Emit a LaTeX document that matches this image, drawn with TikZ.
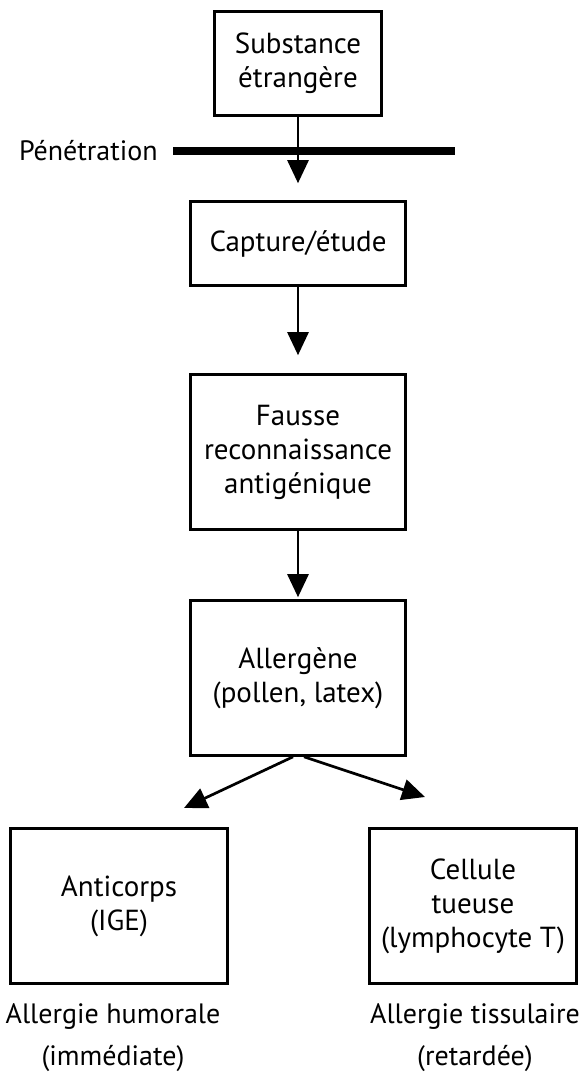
\documentclass[tikz,border=0pt]{standalone}
\usepackage{fontspec}
\setmainfont{PT Sans}
\usepackage{tikz}
\usetikzlibrary{arrows.meta, positioning}

\newcommand{\flowfont}{\fontsize{29}{34}\selectfont}
\newcommand{\notefont}{\fontsize{28}{42}\selectfont}

\begin{document}
\begin{tikzpicture}[-,x=1pt,y=-1pt,line width=2.7pt,
                    box node/.style={rectangle,draw,line width=2.6pt,inner sep=0pt,align=center,font=\flowfont},
                    note node/.style={inner sep=0pt,align=center,font=\notefont},
                    flow arrow/.style={-{Triangle[length=23pt,width=21pt]}}]
 \useasboundingbox (0,0) rectangle (581,1073);

 % chain of boxes
 \node[box node,minimum width=167pt,minimum height=104pt] (sub) at (298,63.5) {Substance\\étrangère};
 \node[box node,minimum width=215pt,minimum height=84pt] (capture) at (298,243.5) {Capture/étude};
 \node[box node,minimum width=215pt,minimum height=155pt] (fausse) at (298,452) {Fausse\\reconnaissance\\antigénique};
 \node[box node,minimum width=215pt,minimum height=155pt] (allerg) at (298,678) {Allergène\\(pollen, latex)};
 \node[box node,minimum width=217pt,minimum height=155pt] (anti) at (119,906) {Anticorps\\(IGE)};
 \node[box node,minimum width=207pt,minimum height=155pt] (cellule) at (473,906) {Cellule\\tueuse\\(lymphocyte T)};

 % membrane
 \coordinate (barL) at (173,151);
 \coordinate (barR) at (455,151);
 \draw[line width=8pt] (barL)--(barR);
 \node[note node] (pen) [left=14pt of barL] {Pénétration};

 \draw[flow arrow,shorten >=17pt] (sub)--(capture);
 \draw[flow arrow,shorten >=18pt] (capture)--(fausse);
 \draw[flow arrow,shorten >=2pt] (fausse)--(allerg);

 \coordinate (tipL) at (184,808);
 \coordinate (tipR) at (425,797);
 \draw[flow arrow] ([xshift=-5pt]allerg.south)--(tipL);
 \draw[flow arrow] ([xshift=6pt]allerg.south)--(tipR);

 \node[note node] (humorale) at (113,1038) {Allergie humorale\\(immédiate)};
 \node[note node] (tissulaire) at (475,1038) {Allergie tissulaire\\(retardée)};

\end{tikzpicture}
\end{document}
